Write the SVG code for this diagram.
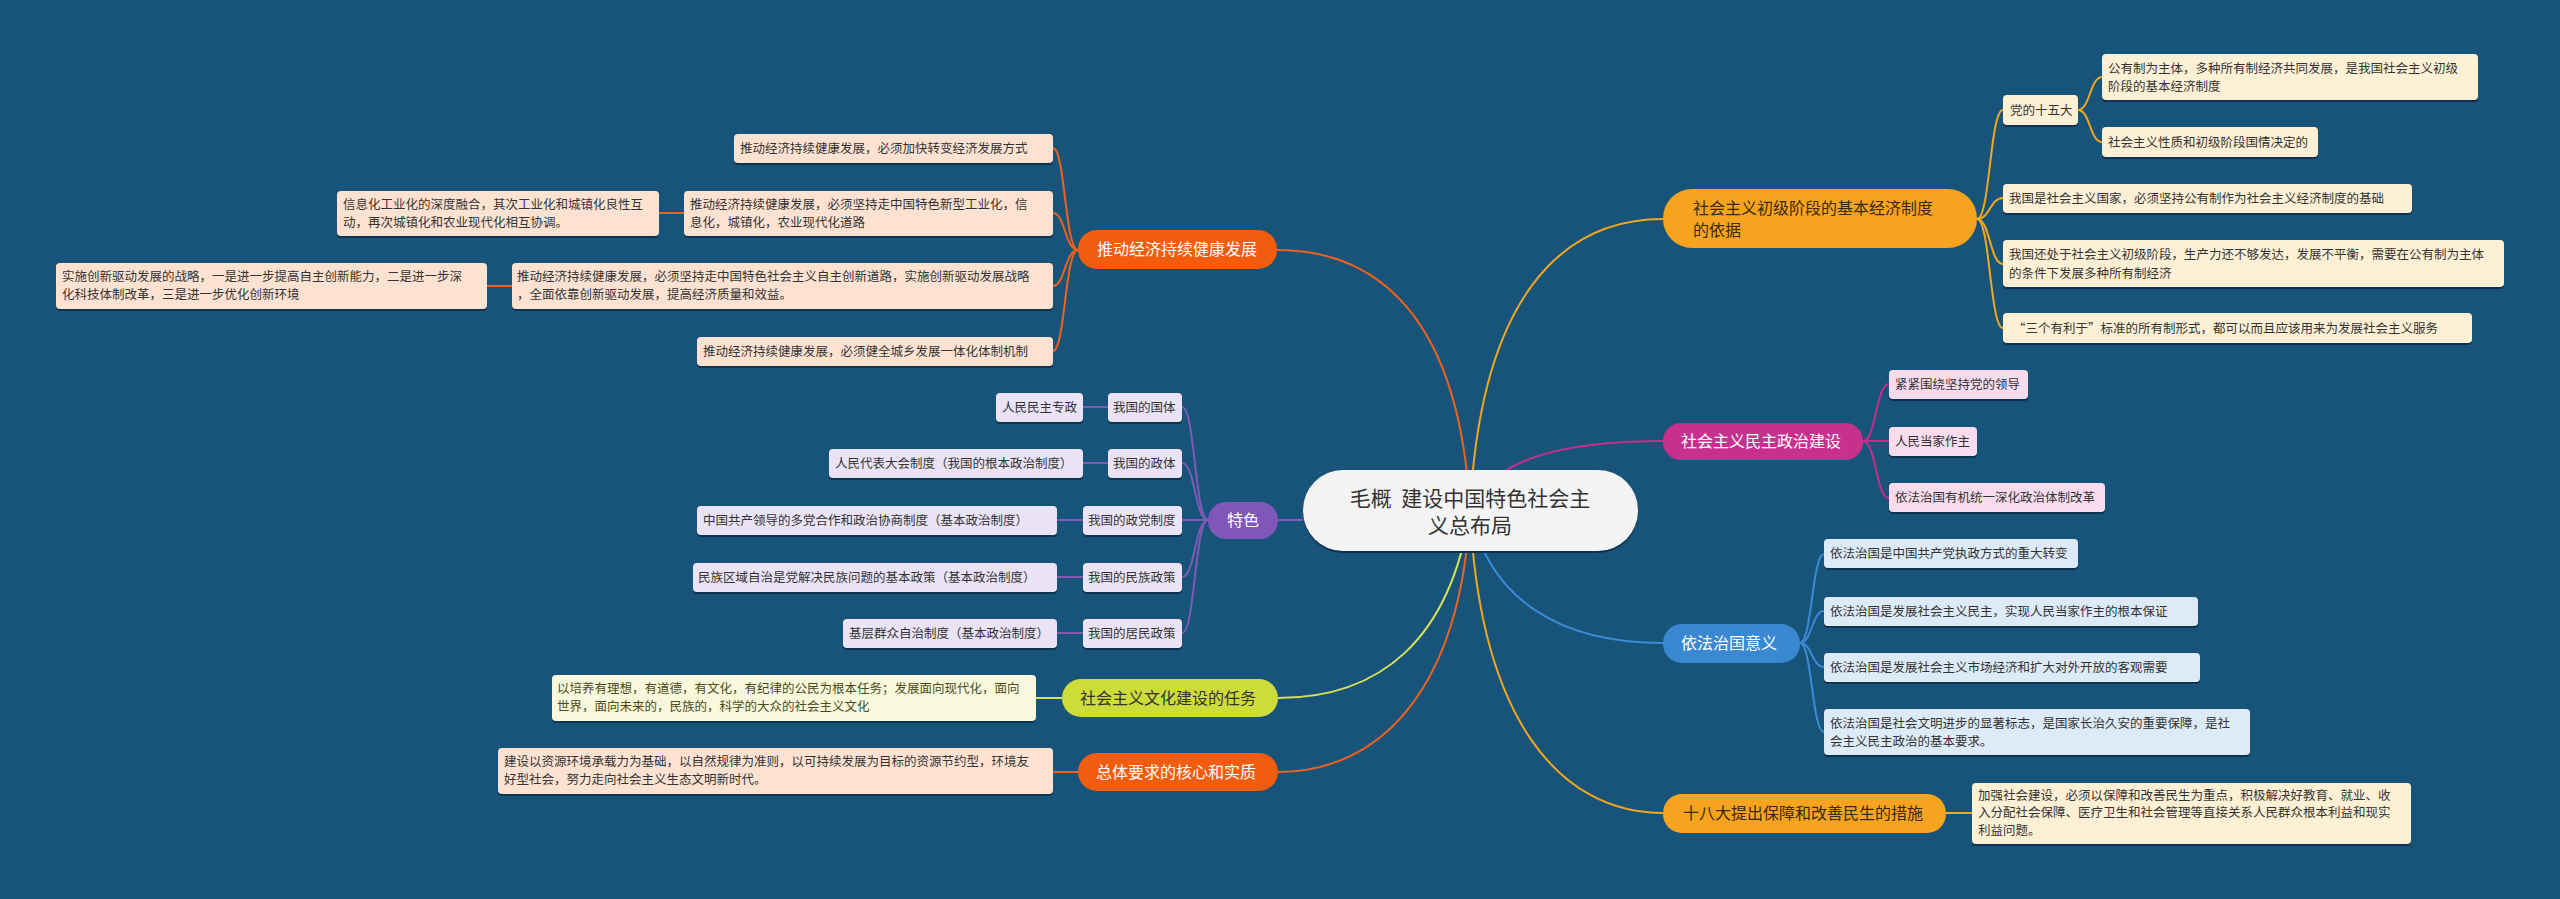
<svg xmlns="http://www.w3.org/2000/svg" width="2560" height="899" viewBox="0 0 2560 899">
<style>
text{font-family:"Noto Sans CJK SC","Noto Sans",sans-serif}
.t{font-size:12.5px;fill:#333}
.b{font-size:16px}
.w{fill:#fff}
.d{fill:#3b2a08}
.sh{fill:#0e3350}
.c{fill:none;stroke-width:2}
.o{stroke:#F2A81D}.m{stroke:#C42E8C}.bl{stroke:#3B8AD6}.r{stroke:#F2621A}.p{stroke:#7E5BB5}.y{stroke:#D4E157}
.co{fill:#FDF0D5}.cm{fill:#F8DCEE}.cb{fill:#DDEAF7}.cr{fill:#FDE2D2}.cp{fill:#E9E3F5}.cy{fill:#F8F8DC}
</style>
<rect width="2560" height="899" fill="#18537A"/>
<g id="connectors">
<path class="c o" d="M1470 511 C1480 300 1560 219 1663 219"/>
<path class="c m" d="M1470 511 C1490 460 1560 441 1663 441"/>
<path class="c bl" d="M1470 511 C1490 600 1560 643 1663 643"/>
<path class="c o" d="M1470 511 C1480 720 1560 813 1663 813"/>
<path class="c r" d="M1470 511 C1460 320 1380 250 1277 250"/>
<path class="c p" d="M1303 520 H1278"/>
<path class="c y" d="M1470 511 C1450 640 1380 698 1278 698"/>
<path class="c r" d="M1470 511 C1460 690 1380 772 1278 772"/>
<path class="c o" d="M1977 219 C1990 219 1990 110 2003 110"/>
<path class="c o" d="M1977 219 C1990 219 1990 198 2003 198"/>
<path class="c o" d="M1977 219 C1990 219 1990 264 2003 264"/>
<path class="c o" d="M1977 219 C1990 219 1990 328 2003 328"/>
<path class="c o" d="M2078 110 C2090 110 2090 77 2102 77"/>
<path class="c o" d="M2078 110 C2090 110 2090 142 2102 142"/>
<path class="c m" d="M1863 441 C1876 441 1876 384 1889 384"/>
<path class="c m" d="M1863 441 H1889"/>
<path class="c m" d="M1863 441 C1876 441 1876 498 1889 498"/>
<path class="c bl" d="M1800 643 C1812 643 1812 554 1824 554"/>
<path class="c bl" d="M1800 643 C1812 643 1812 611 1824 611"/>
<path class="c bl" d="M1800 643 C1812 643 1812 667 1824 667"/>
<path class="c bl" d="M1800 643 C1812 643 1812 732 1824 732"/>
<path class="c o" d="M1946 813 H1972"/>
<path class="c r" d="M1078 250 C1065 250 1065 148 1053 148"/>
<path class="c r" d="M1078 250 C1065 250 1065 213 1053 213"/>
<path class="c r" d="M1078 250 C1065 250 1065 286 1053 286"/>
<path class="c r" d="M1078 250 C1065 250 1065 351 1053 351"/>
<path class="c r" d="M684 213 H659"/>
<path class="c r" d="M512 286 H487"/>
<path class="c p" d="M1208 520 C1195 520 1195 407 1182 407"/>
<path class="c p" d="M1208 520 C1195 520 1195 463 1182 463"/>
<path class="c p" d="M1208 520 H1182"/>
<path class="c p" d="M1208 520 C1195 520 1195 577 1182 577"/>
<path class="c p" d="M1208 520 C1195 520 1195 633 1182 633"/>
<path class="c p" d="M1108 407 H1083"/>
<path class="c p" d="M1108 463 H1083"/>
<path class="c p" d="M1083 520 H1057"/>
<path class="c p" d="M1083 577 H1057"/>
<path class="c p" d="M1083 633 H1057"/>
<path class="c y" d="M1062 698 H1036"/>
<path class="c r" d="M1078 772 H1053"/>
</g>
<g id="center">
<rect x="1303" y="472" width="335" height="81" rx="40" fill="#0e3350"/>
<rect x="1303" y="470" width="335" height="81" rx="40" fill="#F4F4F4"/>
<text x="1470" y="506" font-size="21" text-anchor="middle" fill="#333" xml:space="preserve">毛概  建设中国特色社会主</text>
<text x="1470" y="533" font-size="21" text-anchor="middle" fill="#333">义总布局</text>
</g>
<g id="b1"><rect x="1663" y="189" width="314" height="59" rx="29" fill="#F6A31F"/>
<text class="b d" x="1693" y="214">社会主义初级阶段的基本经济制度</text><text class="b d" x="1693" y="236">的依据</text></g>
<g id="b1a"><rect class="sh" x="2003" y="97" width="75" height="30" rx="4"/><rect class="co" x="2003" y="95" width="75" height="30" rx="4"/><text class="t" x="2010" y="115">党的十五大</text></g>
<g id="b1a1"><rect class="sh" x="2102" y="56" width="376" height="46" rx="4"/><rect class="co" x="2102" y="54" width="376" height="46" rx="4"/><text class="t" x="2108" y="73">公有制为主体，多种所有制经济共同发展，是我国社会主义初级</text><text class="t" x="2108" y="91">阶段的基本经济制度</text></g>
<g id="b1a2"><rect class="sh" x="2102" y="129" width="216" height="30" rx="4"/><rect class="co" x="2102" y="127" width="216" height="30" rx="4"/><text class="t" x="2108" y="147">社会主义性质和初级阶段国情决定的</text></g>
<g id="b1b"><rect class="sh" x="2003" y="186" width="409" height="29" rx="4"/><rect class="co" x="2003" y="184" width="409" height="29" rx="4"/><text class="t" x="2009" y="203">我国是社会主义国家，必须坚持公有制作为社会主义经济制度的基础</text></g>
<g id="b1c"><rect class="sh" x="2003" y="242" width="501" height="47" rx="4"/><rect class="co" x="2003" y="240" width="501" height="47" rx="4"/><text class="t" x="2009" y="259">我国还处于社会主义初级阶段，生产力还不够发达，发展不平衡，需要在公有制为主体</text><text class="t" x="2009" y="278">的条件下发展多种所有制经济</text></g>
<g id="b1d"><rect class="sh" x="2003" y="315" width="469" height="30" rx="4"/><rect class="co" x="2003" y="313" width="469" height="30" rx="4"/><text class="t" x="2013" y="333">“三个有利于”标准的所有制形式，都可以而且应该用来为发展社会主义服务</text></g>
<g id="b2"><rect x="1663" y="423" width="200" height="37" rx="18" fill="#C8308E"/><text class="b w" x="1681" y="447">社会主义民主政治建设</text></g>
<g id="b2a"><rect class="sh" x="1889" y="372" width="139" height="29" rx="4"/><rect class="cm" x="1889" y="370" width="139" height="29" rx="4"/><text class="t" x="1895" y="389">紧紧围绕坚持党的领导</text></g>
<g id="b2b"><rect class="sh" x="1889" y="429" width="88" height="29" rx="4"/><rect class="cm" x="1889" y="427" width="88" height="29" rx="4"/><text class="t" x="1895" y="446">人民当家作主</text></g>
<g id="b2c"><rect class="sh" x="1889" y="485" width="216" height="29" rx="4"/><rect class="cm" x="1889" y="483" width="216" height="29" rx="4"/><text class="t" x="1895" y="502">依法治国有机统一深化政治体制改革</text></g>
<g id="b3"><rect x="1663" y="624" width="137" height="39" rx="19" fill="#3A88D0"/><text class="b w" x="1681" y="649">依法治国意义</text></g>
<g id="b3a"><rect class="sh" x="1824" y="541" width="254" height="29" rx="4"/><rect class="cb" x="1824" y="539" width="254" height="29" rx="4"/><text class="t" x="1830" y="558">依法治国是中国共产党执政方式的重大转变</text></g>
<g id="b3b"><rect class="sh" x="1824" y="599" width="374" height="29" rx="4"/><rect class="cb" x="1824" y="597" width="374" height="29" rx="4"/><text class="t" x="1830" y="616">依法治国是发展社会主义民主，实现人民当家作主的根本保证</text></g>
<g id="b3c"><rect class="sh" x="1824" y="655" width="376" height="29" rx="4"/><rect class="cb" x="1824" y="653" width="376" height="29" rx="4"/><text class="t" x="1830" y="672">依法治国是发展社会主义市场经济和扩大对外开放的客观需要</text></g>
<g id="b3d"><rect class="sh" x="1824" y="711" width="426" height="46" rx="4"/><rect class="cb" x="1824" y="709" width="426" height="46" rx="4"/><text class="t" x="1830" y="728">依法治国是社会文明进步的显著标志，是国家长治久安的重要保障，是社</text><text class="t" x="1830" y="746">会主义民主政治的基本要求。</text></g>
<g id="b4"><rect x="1663" y="794" width="283" height="39" rx="19" fill="#F6A31F"/><text class="b d" x="1683" y="819">十八大提出保障和改善民生的措施</text></g>
<g id="b4a"><rect class="sh" x="1972" y="785" width="439" height="61" rx="4"/><rect class="co" x="1972" y="783" width="439" height="61" rx="4"/><text class="t" x="1978" y="800">加强社会建设，必须以保障和改善民生为重点，积极解决好教育、就业、收</text><text class="t" x="1978" y="817">入分配社会保障、医疗卫生和社会管理等直接关系人民群众根本利益和现实</text><text class="t" x="1978" y="835">利益问题。</text></g>
<g id="b5"><rect x="1078" y="230" width="199" height="39" rx="19" fill="#F25C0E"/><text class="b w" x="1097" y="255">推动经济持续健康发展</text></g>
<g id="b5a"><rect class="sh" x="734" y="136" width="319" height="29" rx="4"/><rect class="cr" x="734" y="134" width="319" height="29" rx="4"/><text class="t" x="740" y="153">推动经济持续健康发展，必须加快转变经济发展方式</text></g>
<g id="b5b"><rect class="sh" x="684" y="193" width="369" height="45" rx="4"/><rect class="cr" x="684" y="191" width="369" height="45" rx="4"/><text class="t" x="690" y="209">推动经济持续健康发展，必须坚持走中国特色新型工业化，信</text><text class="t" x="690" y="227">息化，城镇化，农业现代化道路</text></g>
<g id="b5b1"><rect class="sh" x="337" y="193" width="322" height="45" rx="4"/><rect class="cr" x="337" y="191" width="322" height="45" rx="4"/><text class="t" x="343" y="209">信息化工业化的深度融合，其次工业化和城镇化良性互</text><text class="t" x="343" y="227">动，再次城镇化和农业现代化相互协调。</text></g>
<g id="b5c"><rect class="sh" x="512" y="265" width="541" height="46" rx="4"/><rect class="cr" x="512" y="263" width="541" height="46" rx="4"/><text class="t" x="517" y="281">推动经济持续健康发展，必须坚持走中国特色社会主义自主创新道路，实施创新驱动发展战略</text><text class="t" x="517" y="299">，全面依靠创新驱动发展，提高经济质量和效益。</text></g>
<g id="b5c1"><rect class="sh" x="56" y="265" width="431" height="46" rx="4"/><rect class="cr" x="56" y="263" width="431" height="46" rx="4"/><text class="t" x="62" y="281">实施创新驱动发展的战略，一是进一步提高自主创新能力，二是进一步深</text><text class="t" x="62" y="299">化科技体制改革，三是进一步优化创新环境</text></g>
<g id="b5d"><rect class="sh" x="697" y="339" width="356" height="29" rx="4"/><rect class="cr" x="697" y="337" width="356" height="29" rx="4"/><text class="t" x="703" y="356">推动经济持续健康发展，必须健全城乡发展一体化体制机制</text></g>
<g id="b6"><rect x="1208" y="502" width="70" height="37" rx="18" fill="#7E57B8"/><text class="b w" x="1243" y="526" text-anchor="middle">特色</text></g>
<g id="b6a"><rect class="sh" x="1108" y="395" width="74" height="29" rx="4"/><rect class="cp" x="1108" y="393" width="74" height="29" rx="4"/><text class="t" x="1113" y="412">我国的国体</text></g>
<g id="b6a1"><rect class="sh" x="996" y="395" width="87" height="29" rx="4"/><rect class="cp" x="996" y="393" width="87" height="29" rx="4"/><text class="t" x="1002" y="412">人民民主专政</text></g>
<g id="b6b"><rect class="sh" x="1108" y="451" width="74" height="29" rx="4"/><rect class="cp" x="1108" y="449" width="74" height="29" rx="4"/><text class="t" x="1113" y="468">我国的政体</text></g>
<g id="b6b1"><rect class="sh" x="829" y="451" width="254" height="29" rx="4"/><rect class="cp" x="829" y="449" width="254" height="29" rx="4"/><text class="t" x="835" y="468">人民代表大会制度（我国的根本政治制度）</text></g>
<g id="b6c"><rect class="sh" x="1083" y="508" width="99" height="29" rx="4"/><rect class="cp" x="1083" y="506" width="99" height="29" rx="4"/><text class="t" x="1088" y="525">我国的政党制度</text></g>
<g id="b6c1"><rect class="sh" x="697" y="508" width="360" height="29" rx="4"/><rect class="cp" x="697" y="506" width="360" height="29" rx="4"/><text class="t" x="703" y="525">中国共产领导的多党合作和政治协商制度（基本政治制度）</text></g>
<g id="b6d"><rect class="sh" x="1083" y="565" width="99" height="29" rx="4"/><rect class="cp" x="1083" y="563" width="99" height="29" rx="4"/><text class="t" x="1088" y="582">我国的民族政策</text></g>
<g id="b6d1"><rect class="sh" x="693" y="565" width="364" height="29" rx="4"/><rect class="cp" x="693" y="563" width="364" height="29" rx="4"/><text class="t" x="698" y="582">民族区域自治是党解决民族问题的基本政策（基本政治制度）</text></g>
<g id="b6e"><rect class="sh" x="1083" y="621" width="99" height="29" rx="4"/><rect class="cp" x="1083" y="619" width="99" height="29" rx="4"/><text class="t" x="1088" y="638">我国的居民政策</text></g>
<g id="b6e1"><rect class="sh" x="843" y="621" width="214" height="29" rx="4"/><rect class="cp" x="843" y="619" width="214" height="29" rx="4"/><text class="t" x="849" y="638">基层群众自治制度（基本政治制度）</text></g>
<g id="b7"><rect x="1062" y="679" width="216" height="38" rx="19" fill="#CDDC39"/><text class="b" fill="#333" x="1080" y="704">社会主义文化建设的任务</text></g>
<g id="b7a"><rect class="sh" x="552" y="677" width="484" height="46" rx="4"/><rect class="cy" x="552" y="675" width="484" height="46" rx="4"/><text class="t" x="557" y="693" style="fill:#4a4a1a">以培养有理想，有道德，有文化，有纪律的公民为根本任务；发展面向现代化，面向</text><text class="t" x="557" y="711" style="fill:#4a4a1a">世界，面向未来的，民族的，科学的大众的社会主义文化</text></g>
<g id="b8"><rect x="1078" y="753" width="200" height="38" rx="19" fill="#F25C0E"/><text class="b w" x="1096" y="778">总体要求的核心和实质</text></g>
<g id="b8a"><rect class="sh" x="498" y="750" width="555" height="46" rx="4"/><rect class="cr" x="498" y="748" width="555" height="46" rx="4"/><text class="t" x="504" y="766">建设以资源环境承载力为基础，以自然规律为准则，以可持续发展为目标的资源节约型，环境友</text><text class="t" x="504" y="784">好型社会，努力走向社会主义生态文明新时代。</text></g>
</svg>
